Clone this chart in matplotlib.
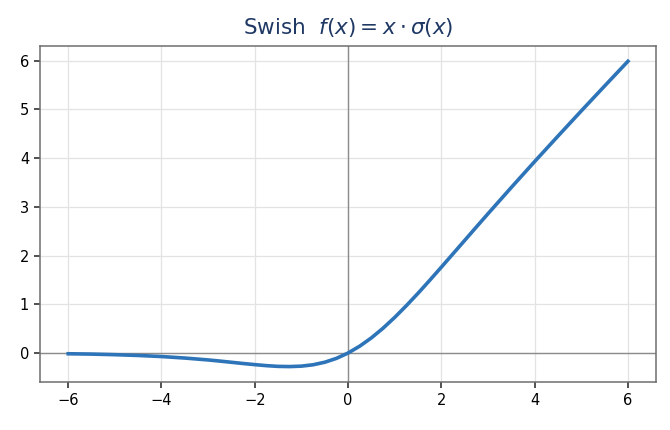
import matplotlib
matplotlib.use("Agg")
import matplotlib.pyplot as plt

# points
x_vals = [-6, -5.5, -5, -4.5, -4, -3.5, -3, -2.75, -2.5, -2.25, -2, -1.75, -1.5, -1.25,
          -1, -0.75, -0.5, -0.25, 0, 0.25, 0.5, 0.75, 1, 1.25, 1.5, 1.75, 2, 2.25,
          2.5, 2.75, 3, 3.5, 4, 4.5, 5, 5.5, 6]
y_vals = [-0.015, -0.022, -0.034, -0.050, -0.072, -0.103, -0.142, -0.165, -0.190, -0.215,
          -0.238, -0.259, -0.274, -0.278, -0.269, -0.241, -0.189, -0.110, 0.0, 0.141,
          0.311, 0.509, 0.731, 0.972, 1.226, 1.491, 1.762, 2.036, 2.310, 2.585, 2.858,
          3.397, 3.928, 4.450, 4.967, 5.478, 5.985]
x_ticks = [-6, -4, -2, 0, 2, 4, 6]
y_ticks = [0, 1, 2, 3, 4, 5, 6]

fig = plt.figure(figsize=(6.7, 4.3), dpi=100)
ax = fig.add_axes([0.06, 0.112, 0.919, 0.781])

ax.axhline(0, color='#8c8c8c', lw=1.0, zorder=1)
ax.axvline(0, color='#8c8c8c', lw=1.0, zorder=1)
ax.plot(x_vals, y_vals, color='#2e74b8', lw=2.6, zorder=3)

ax.set_xticks(x_ticks)
ax.set_yticks(y_ticks)
ax.grid(True, color='#e3e3e3', lw=0.9, zorder=0)
ax.set_axisbelow(True)
for s in ax.spines.values():
    s.set_color('#6e6e6e')
    s.set_linewidth(1.1)
ax.tick_params(labelsize=10.5, length=4.5, width=1.1, color='#222222')

ax.set_title(r'Swish  $f(x) = x \cdot \sigma(x)$', fontsize=15.5, color='#1f3864', pad=9)

fig.savefig('out.png', dpi=100)
